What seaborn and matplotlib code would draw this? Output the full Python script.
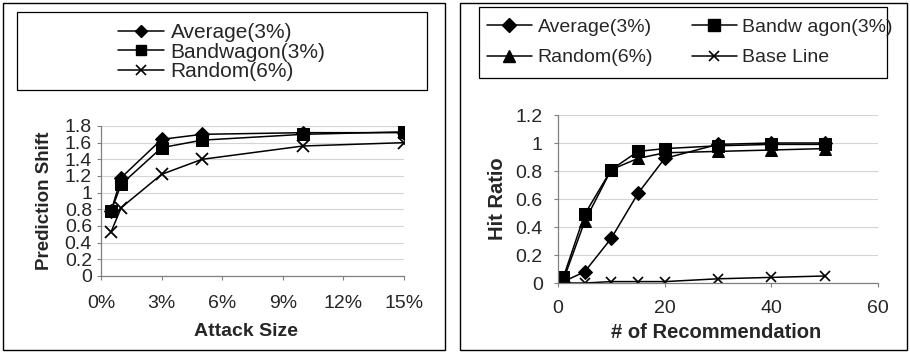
import matplotlib
matplotlib.use("Agg")
import matplotlib.pyplot as plt
import seaborn as sns
from matplotlib.patches import Rectangle
from matplotlib.lines import Line2D
from matplotlib.ticker import FuncFormatter

sns.set_style("white")
plt.rcParams['font.family'] = ['Liberation Sans', 'DejaVu Sans']

# Left panel data
attack_size = [0.5, 1, 3, 5, 10, 15]
ps_average = [0.78, 1.18, 1.64, 1.70, 1.72, 1.72]
ps_bandwagon = [0.78, 1.10, 1.54, 1.63, 1.70, 1.73]
ps_random = [0.53, 0.82, 1.22, 1.40, 1.56, 1.60]
left_xticks = [0, 3, 6, 9, 12, 15]
left_yticks = [0, 0.2, 0.4, 0.6, 0.8, 1, 1.2, 1.4, 1.6, 1.8]

# Right panel data
n_rec = [1, 5, 10, 15, 20, 30, 40, 50]
hr_average = [0.01, 0.08, 0.32, 0.64, 0.89, 0.99, 1.00, 1.00]
hr_bandwagon = [0.04, 0.49, 0.81, 0.94, 0.96, 0.98, 0.99, 0.99]
hr_random = [0.02, 0.44, 0.81, 0.89, 0.93, 0.94, 0.95, 0.96]
hr_base = [0.0, 0.0, 0.01, 0.01, 0.01, 0.03, 0.04, 0.05]
right_xticks = [0, 20, 40, 60]
right_yticks = [0, 0.2, 0.4, 0.6, 0.8, 1, 1.2]

W, H = 910, 352
fig = plt.figure(figsize=(W / 100, H / 100), dpi=100)

def fx(px):
    return px / W

def fy(py):
    return 1 - py / H

# outer frames
fig.patches.append(Rectangle((fx(3), fy(350)), fx(442), 347 / H, transform=fig.transFigure,
                             fill=False, edgecolor='black', linewidth=1.0))
fig.patches.append(Rectangle((fx(460), fy(350)), fx(447), 347 / H, transform=fig.transFigure,
                             fill=False, edgecolor='black', linewidth=1.0))
# legend frames
fig.patches.append(Rectangle((fx(17), fy(90)), fx(410), 78 / H, transform=fig.transFigure,
                             fill=False, edgecolor='black', linewidth=0.9))
fig.patches.append(Rectangle((fx(479), fy(78)), fx(408), 71 / H, transform=fig.transFigure,
                             fill=False, edgecolor='black', linewidth=0.9))

ax1 = fig.add_axes([fx(101), fy(276), fx(303), 150 / H])
ax2 = fig.add_axes([fx(558), fy(283), fx(320), 168 / H])

def style(ax):
    ax.grid(axis='y', color='#d4d4d4', linewidth=0.8)
    ax.grid(axis='x', visible=False)
    for s in ['top', 'right']:
        ax.spines[s].set_visible(False)
    for s in ['left', 'bottom']:
        ax.spines[s].set_color('#808080')
        ax.spines[s].set_linewidth(0.9)
    ax.tick_params(axis='both', direction='out', length=3, width=0.8, color='#808080',
                   labelsize=14, left=True, bottom=True)
    ax.tick_params(axis='y', pad=3.5)
    ax.tick_params(axis='x', pad=11)
    ax.set_axisbelow(True)

LW = 1.1

sns.lineplot(x=attack_size, y=ps_average, ax=ax1, marker='D', markersize=7,
             color='black', linewidth=LW, markeredgecolor='black')
sns.lineplot(x=attack_size, y=ps_bandwagon, ax=ax1, marker='s', markersize=8.5,
             color='black', linewidth=LW, markeredgecolor='black')
sns.lineplot(x=attack_size, y=ps_random, ax=ax1, marker='x', markersize=8,
             color='black', linewidth=LW, markeredgewidth=1.3, markeredgecolor='black')
ax1.set_xlim(0, 15)
ax1.set_ylim(0, 1.8)
ax1.set_xticks(left_xticks)
ax1.set_yticks(left_yticks)
ax1.xaxis.set_major_formatter(FuncFormatter(lambda v, p: f"{int(v)}%"))
ax1.yaxis.set_major_formatter(FuncFormatter(lambda v, p: f"{v:g}"))
style(ax1)
ax1.set_xlabel("Attack Size", fontsize=14, fontweight='bold')
ax1.set_ylabel("Prediction Shift", fontsize=13.5, fontweight='bold')
ax1.xaxis.label.set_verticalalignment('center')
ax1.yaxis.label.set_verticalalignment('center')
ax1.xaxis.set_label_coords(0.479, -0.373)
ax1.yaxis.set_label_coords(-0.185, 0.5)

sns.lineplot(x=n_rec, y=hr_average, ax=ax2, marker='D', markersize=7,
             color='black', linewidth=LW, markeredgecolor='black')
sns.lineplot(x=n_rec, y=hr_bandwagon, ax=ax2, marker='s', markersize=8.5,
             color='black', linewidth=LW, markeredgecolor='black')
sns.lineplot(x=n_rec, y=hr_random, ax=ax2, marker='^', markersize=8,
             color='black', linewidth=LW, markeredgecolor='black')
sns.lineplot(x=n_rec, y=hr_base, ax=ax2, marker='x', markersize=7,
             color='black', linewidth=LW, markeredgewidth=1.2, markeredgecolor='black')
ax2.set_xlim(0, 60)
ax2.set_ylim(0, 1.2)
ax2.set_xticks(right_xticks)
ax2.set_yticks(right_yticks)
ax2.yaxis.set_major_formatter(FuncFormatter(lambda v, p: f"{v:g}"))
style(ax2)
ax2.tick_params(axis='y', pad=8)
ax2.tick_params(axis='x', pad=9)
ax2.set_xlabel("# of Recommendation", fontsize=14.5, fontweight='bold')
ax2.set_ylabel("Hit Ratio", fontsize=14.5, fontweight='bold')
ax2.xaxis.label.set_verticalalignment('center')
ax2.yaxis.label.set_verticalalignment('center')
ax2.xaxis.set_label_coords(0.494, -0.292)
ax2.yaxis.set_label_coords(-0.19, 0.5)

# Legends
def h(marker, ms, mew=1.0):
    return Line2D([], [], color='black', marker=marker, markersize=ms, linewidth=LW,
                  markeredgewidth=mew, markeredgecolor='black')

left_handles = [h('D', 6), h('s', 7), h('x', 6.5, 1.2)]
left_labels = ["Average(3%)", "Bandwagon(3%)", "Random(6%)"]
fig.legend(left_handles, left_labels, loc='center left',
           bbox_to_anchor=(fx(118), fy(52)), frameon=False, fontsize=15,
           handlelength=2.2, handletextpad=0.33, labelspacing=0.02, borderpad=0,
           borderaxespad=0)

right_handles = [h('D', 7), h('s', 8.5), h('^', 8), h('x', 7, 1.2)]
right_labels = ["Average(3%)", "Bandw agon(3%)", "Random(6%)", "Base Line"]
order = [0, 2, 1, 3]
fig.legend([right_handles[i] for i in order], [right_labels[i] for i in order],
           loc='center left', ncol=2, bbox_to_anchor=(fx(487), fy(42.5)), frameon=False,
           fontsize=14, handlelength=2.3, handletextpad=0.3, labelspacing=0.65,
           columnspacing=2.0, borderpad=0, borderaxespad=0)

fig.savefig("out.png", dpi=100, facecolor='white')
